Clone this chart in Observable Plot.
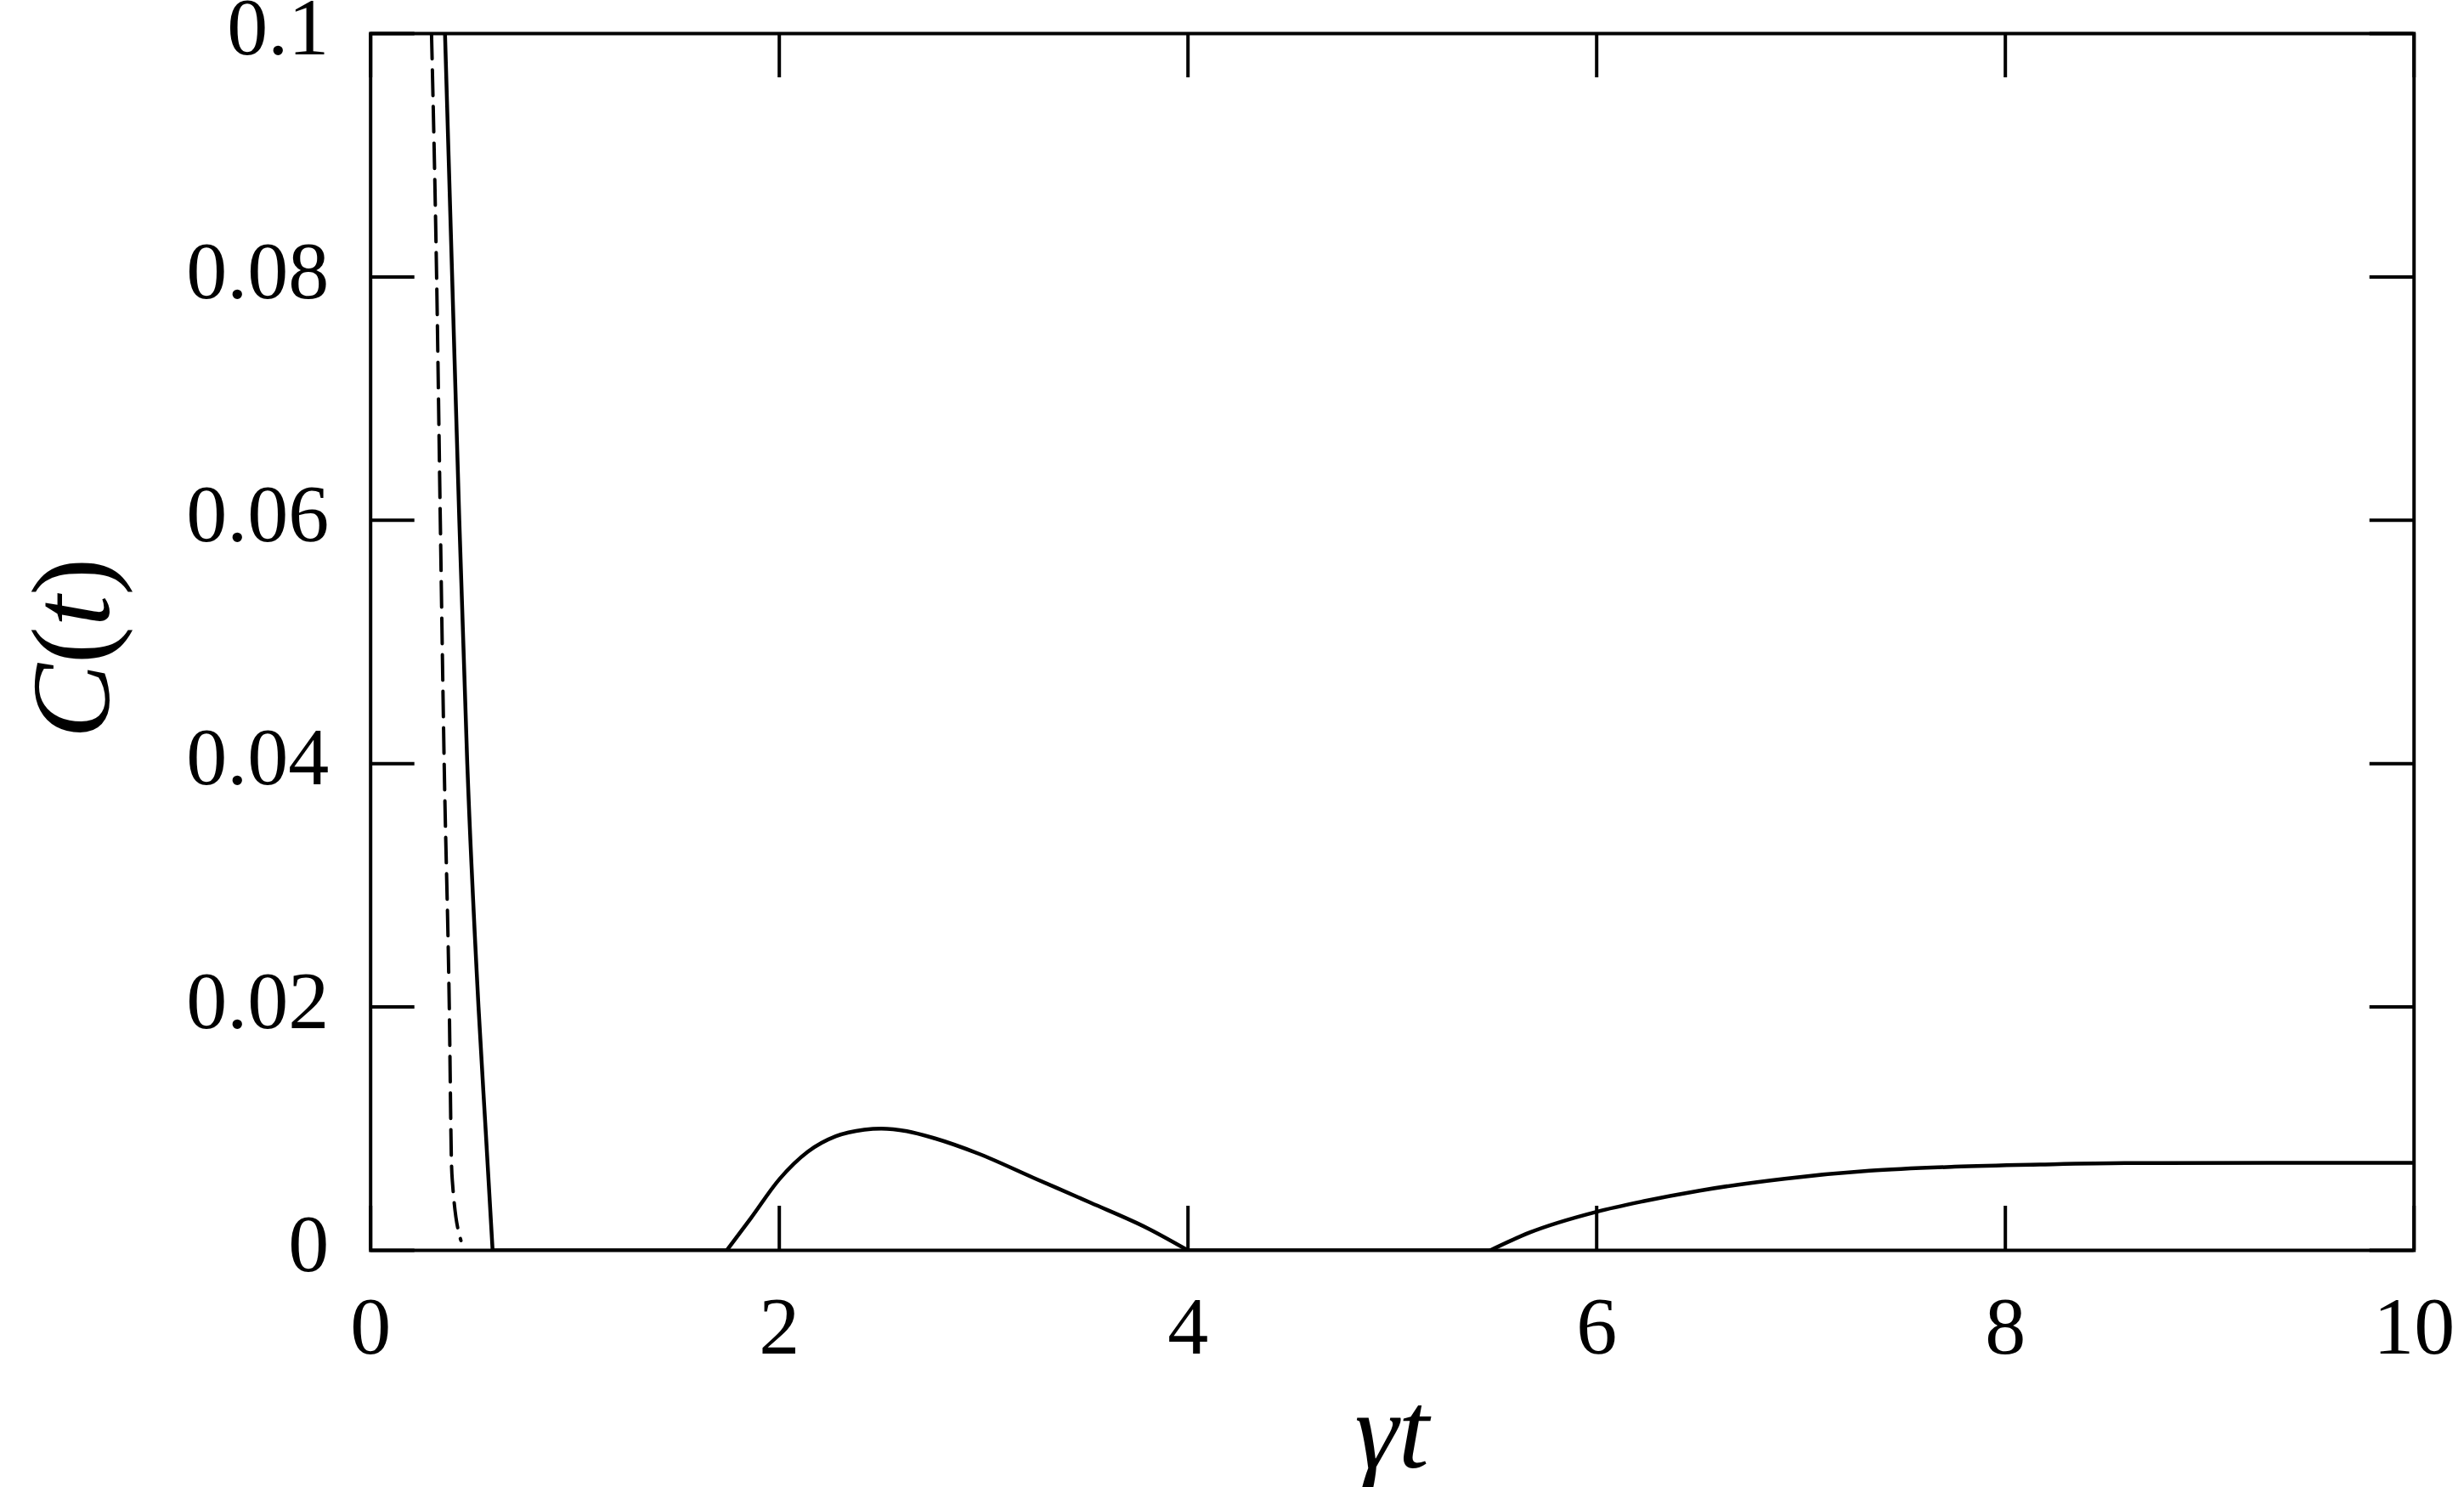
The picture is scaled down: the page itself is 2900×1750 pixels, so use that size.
<!DOCTYPE html>
<html>
<head>
<meta charset="utf-8">
<script src="https://cdn.jsdelivr.net/npm/d3@7"></script>
<script src="https://cdn.jsdelivr.net/npm/@observablehq/plot@0.6"></script>
<style>
  html, body { margin: 0; padding: 0; background: #fff; }
  #chart svg { display: block; }
</style>
</head>
<body>
<div id="chart"></div>
<script>
// ---- tick values and labels ----
const xTicks = [0, 2, 4, 6, 8, 10];
const xTickLabels = ["0", "2", "4", "6", "8", "10"];
const yTicks = [0, 0.02, 0.04, 0.06, 0.08, 0.1];
const yTickLabels = ["0", "0.02", "0.04", "0.06", "0.08", "0.1"];

// ---- solid curve, split into parts ----
const solidT = [
  0.364, 0.399, 0.434, 0.473, 0.528, 0.564, 0.597,
  0.597, 1.743,
  1.743, 1.861, 2.0, 2.139, 2.277, 2.416, 2.499, 2.624, 2.762, 2.97, 3.247, 3.524, 3.802, 4.0,
  4.0, 5.479,
  5.479, 5.673, 6.0, 6.227, 6.504, 6.92, 7.336, 7.752, 8.168, 8.584, 9.3, 10
];
const solidC = [
  0.1, 0.08, 0.06, 0.04, 0.02, 0.0096, 0,
  0, 0,
  0, 0.00265, 0.00584, 0.0081, 0.00938, 0.00992, 0.01001, 0.0098, 0.0092, 0.00798, 0.00594, 0.00391, 0.00182, 0,
  0, 0,
  0, 0.00147, 0.00317, 0.00403, 0.00491, 0.00589, 0.00654, 0.00687, 0.00705, 0.00717, 0.0072, 0.0072
];
const solidPart = [
  "a", "a", "a", "a", "a", "a", "a",
  "b", "b",
  "c", "c", "c", "c", "c", "c", "c", "c", "c", "c", "c", "c", "c", "c",
  "d", "d",
  "e", "e", "e", "e", "e", "e", "e", "e", "e", "e", "e", "e"
];

// ---- dashed curve ----
const dashedT = [0.298, 0.323, 0.341, 0.360, 0.385, 0.396, 0.400, 0.442];
const dashedC = [0.1, 0.08, 0.06, 0.04, 0.02, 0.007, 0.0057, 0.0008];

const solidRows = solidT.map((t, i) => ({t, c: solidC[i], part: solidPart[i]}));
const dashedRows = dashedT.map((t, i) => ({t, c: dashedC[i]}));

const W = 2900, H = 1750;
const mL = 435.7, mR = 59.3, mT = 39, mB = 279;
const innerW = W - mL - mR, innerH = H - mT - mB;
const tickLen = 52;
const FONT = "'Liberation Serif', 'DejaVu Serif', serif";

const plot = Plot.plot({
  width: W, height: H,
  marginLeft: mL, marginRight: mR, marginTop: mT, marginBottom: mB,
  x: {domain: [0, 10], axis: null},
  y: {domain: [0, 0.1], axis: null},
  style: {fontFamily: FONT, background: "#fff", color: "#000", overflow: "visible"},
  marks: [
    Plot.line(solidRows, {x: "t", y: "c", z: "part", curve: "monotone-x", stroke: "#000", strokeWidth: 4.5, clip: true}),
    Plot.line(dashedRows, {x: "t", y: "c", curve: "monotone-x", stroke: "#000", strokeWidth: 4, strokeDasharray: "30,13", clip: true}),
    Plot.tickX(xTicks, {x: d => d, insetTop: innerH - tickLen, stroke: "#000", strokeWidth: 4}),
    Plot.tickX(xTicks, {x: d => d, insetBottom: innerH - tickLen, stroke: "#000", strokeWidth: 4}),
    Plot.tickY(yTicks, {y: d => d, insetRight: innerW - tickLen, stroke: "#000", strokeWidth: 4}),
    Plot.tickY(yTicks, {y: d => d, insetLeft: innerW - tickLen, stroke: "#000", strokeWidth: 4}),
    Plot.frame({stroke: "#000", strokeWidth: 4}),
    Plot.text(xTicks, {x: d => d, text: (d, i) => xTickLabels[i], frameAnchor: "bottom", dy: 91, fontSize: 96, lineAnchor: "middle", fill: "#000"}),
    Plot.text(yTicks, {y: d => d, text: (d, i) => yTickLabels[i], frameAnchor: "left", dx: -49, dy: -6, textAnchor: "end", fontSize: 96, lineAnchor: "middle", fill: "#000"})
  ]
});

const svg = d3.select(plot);
// x axis label
svg.append("text")
  .attr("x", mL + innerW / 2)
  .attr("y", 1727)
  .attr("text-anchor", "middle")
  .attr("font-family", FONT)
  .attr("font-size", 130)
  .attr("font-style", "italic")
  .attr("fill", "#000")
  .text("γt");
// y axis label
const yl = svg.append("text")
  .attr("transform", `translate(128, ${mT + innerH / 2 + 8}) rotate(-90)`)
  .attr("text-anchor", "middle")
  .attr("font-family", FONT)
  .attr("font-size", 132)
  .attr("fill", "#000");
yl.append("tspan").attr("font-style", "italic").text("C");
yl.append("tspan").text("(");
yl.append("tspan").attr("font-style", "italic").text("t");
yl.append("tspan").text(")");

document.getElementById("chart").appendChild(plot);
</script>
</body>
</html>
